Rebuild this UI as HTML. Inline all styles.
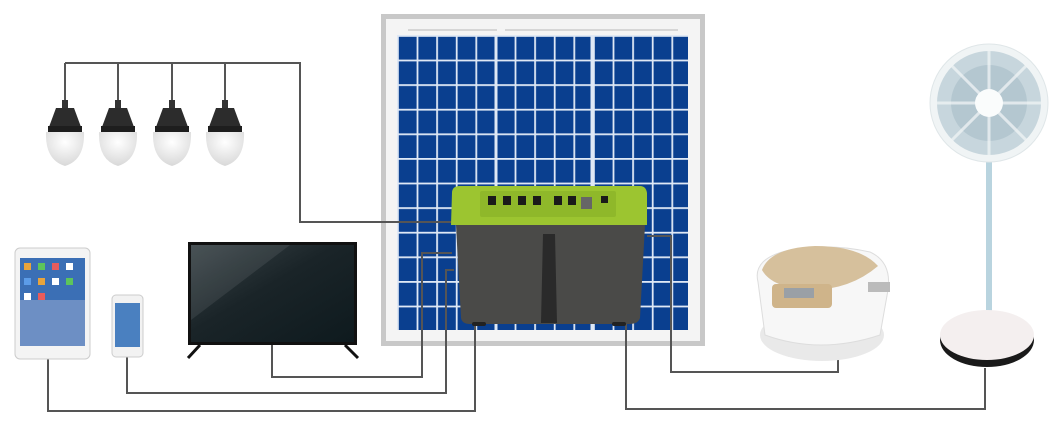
<!DOCTYPE html>
<html><head><meta charset="utf-8"><style>html,body{margin:0;padding:0;background:#fff}svg{display:block}</style></head>
<body>
<svg width="1063" height="435" viewBox="0 0 1063 435" xmlns="http://www.w3.org/2000/svg">
<defs>
<pattern id="cells" x="397" y="35" width="19.6" height="24.6" patternUnits="userSpaceOnUse">
<rect width="19.6" height="24.6" fill="#0a3f8f"/>
<rect x="0" y="0" width="19.6" height="1.8" fill="#dfe8f5"/>
<rect x="0" y="0" width="1.8" height="24.6" fill="#dfe8f5"/>
</pattern>
<linearGradient id="tvg" x1="0" y1="0" x2="1" y2="1"><stop offset="0" stop-color="#3a4448"/><stop offset="0.45" stop-color="#1a2428"/><stop offset="1" stop-color="#0e1a1e"/></linearGradient>
<radialGradient id="bulb" cx="0.5" cy="0.3" r="0.7"><stop offset="0" stop-color="#ffffff"/><stop offset="1" stop-color="#d8d8d8"/></radialGradient>
</defs>
<!-- panel -->
<rect x="381" y="14" width="324" height="332" fill="#c8c8c8"/>
<rect x="386" y="19" width="314" height="322" fill="#f4f4f4"/>
<line x1="408" y1="30" x2="497" y2="30" stroke="#ccc" stroke-width="1.5"/>
<line x1="505" y1="30" x2="678" y2="30" stroke="#ccc" stroke-width="1.5"/>
<rect x="397" y="35" width="291" height="295" fill="url(#cells)"/>
<line x1="496" y1="35" x2="496" y2="330" stroke="#dfe8f5" stroke-width="3"/>
<line x1="592" y1="35" x2="592" y2="330" stroke="#dfe8f5" stroke-width="3"/>
<!-- wires -->
<g fill="none" stroke="#555" stroke-width="2">
<polyline points="65,63 300,63 300,222 452,222"/>
<line x1="65" y1="63" x2="65" y2="100"/><line x1="118" y1="63" x2="118" y2="100"/><line x1="172" y1="63" x2="172" y2="100"/><line x1="225" y1="63" x2="225" y2="100"/>
<polyline points="272,345 272,377 422,377 422,253 452,253"/>
<polyline points="127,357 127,393 446,393 446,270 454,270"/>
<polyline points="48,358 48,411 475,411 475,325"/>
<polyline points="647,236 671,236 671,372 838,372 838,358"/>
<polyline points="626,323 626,409 985,409 985,368"/>
</g>
<!-- box -->
<path d="M456,225 L645,225 L640,318 Q638,324 630,324 L470,324 Q462,324 461,318 Z" fill="#4a4a48"/>
<path d="M543,234 L555,234 L557,323 L541,323 Z" fill="#2a2a2a"/>
<path d="M452,193 Q452,186 460,186 L640,186 Q646,186 647,193 L647,225 L451,225 Z" fill="#9cc530"/>
<rect x="480" y="191" width="136" height="26" fill="#8fb82a" rx="2"/>
<g fill="#1a1a1a"><rect x="488" y="196" width="8" height="9"/><rect x="503" y="196" width="8" height="9"/><rect x="518" y="196" width="8" height="9"/><rect x="533" y="196" width="8" height="9"/><rect x="554" y="196" width="8" height="9"/><rect x="568" y="196" width="8" height="9"/><rect x="601" y="196" width="7" height="7"/></g>
<rect x="581" y="197" width="11" height="12" fill="#666"/>
<rect x="472" y="322" width="14" height="4" fill="#222" rx="2"/><rect x="612" y="322" width="14" height="4" fill="#222" rx="2"/>
<!-- bulbs -->
<g>
<g transform="translate(65,0)"><rect x="-3" y="100" width="6" height="8" fill="#333"/><path d="M-9,108 L9,108 L16,127 L-16,127 Z" fill="#2c2c2c"/><rect x="-17" y="126" width="34" height="6" fill="#1e1e1e"/><path d="M-19,132 L19,132 Q20,160 0,166 Q-20,160 -19,132 Z" fill="url(#bulb)"/></g>
<g transform="translate(118,0)"><rect x="-3" y="100" width="6" height="8" fill="#333"/><path d="M-9,108 L9,108 L16,127 L-16,127 Z" fill="#2c2c2c"/><rect x="-17" y="126" width="34" height="6" fill="#1e1e1e"/><path d="M-19,132 L19,132 Q20,160 0,166 Q-20,160 -19,132 Z" fill="url(#bulb)"/></g>
<g transform="translate(172,0)"><rect x="-3" y="100" width="6" height="8" fill="#333"/><path d="M-9,108 L9,108 L16,127 L-16,127 Z" fill="#2c2c2c"/><rect x="-17" y="126" width="34" height="6" fill="#1e1e1e"/><path d="M-19,132 L19,132 Q20,160 0,166 Q-20,160 -19,132 Z" fill="url(#bulb)"/></g>
<g transform="translate(225,0)"><rect x="-3" y="100" width="6" height="8" fill="#333"/><path d="M-9,108 L9,108 L16,127 L-16,127 Z" fill="#2c2c2c"/><rect x="-17" y="126" width="34" height="6" fill="#1e1e1e"/><path d="M-19,132 L19,132 Q20,160 0,166 Q-20,160 -19,132 Z" fill="url(#bulb)"/></g>
</g>
<!-- tablet -->
<rect x="15" y="248" width="75" height="111" rx="5" fill="#f4f4f4" stroke="#ccc"/>
<rect x="20" y="258" width="65" height="88" fill="#3b6fb5"/>
<rect x="20" y="300" width="65" height="46" fill="#6d8fc4"/>
<g fill="#e8a43c"><rect x="24" y="263" width="7" height="7"/><rect x="38" y="263" width="7" height="7" fill="#5cc45c"/><rect x="52" y="263" width="7" height="7" fill="#e85c5c"/><rect x="66" y="263" width="7" height="7" fill="#fff"/><rect x="24" y="278" width="7" height="7" fill="#5c9ce8"/><rect x="38" y="278" width="7" height="7"/><rect x="52" y="278" width="7" height="7" fill="#fff"/><rect x="66" y="278" width="7" height="7" fill="#5cc45c"/><rect x="24" y="293" width="7" height="7" fill="#fff"/><rect x="38" y="293" width="7" height="7" fill="#e85c5c"/></g>
<!-- phone -->
<rect x="112" y="295" width="31" height="62" rx="4" fill="#f2f2f2" stroke="#ccc"/>
<rect x="115" y="303" width="25" height="44" fill="#4a80c0"/>
<!-- tv -->
<rect x="188" y="242" width="169" height="103" fill="#111"/>
<rect x="191" y="245" width="163" height="97" fill="url(#tvg)"/>
<polygon points="191,245 290,245 191,320" fill="#ffffff" opacity="0.08"/>
<line x1="200" y1="345" x2="188" y2="358" stroke="#111" stroke-width="3"/>
<line x1="345" y1="345" x2="358" y2="358" stroke="#111" stroke-width="3"/>
<!-- rice cooker -->
<ellipse cx="822" cy="335" rx="62" ry="26" fill="#e9e9e9"/>
<path d="M758,282 Q752,258 790,250 Q830,243 870,252 Q892,262 888,290 L880,335 Q820,355 765,335 Z" fill="#f7f7f7" stroke="#ddd"/>
<path d="M762,270 Q770,248 815,246 Q860,246 878,266 Q850,290 810,290 Q772,288 762,270 Z" fill="#d6c09c"/>
<rect x="772" y="284" width="60" height="24" rx="4" fill="#cfb48a"/>
<rect x="784" y="288" width="30" height="10" fill="#9aa0a6"/>
<rect x="868" y="282" width="22" height="10" fill="#bbb"/>
<!-- fan -->
<rect x="986" y="158" width="6" height="160" fill="#b9d4df"/>
<ellipse cx="987" cy="340" rx="47" ry="27" fill="#1a1a1a"/>
<ellipse cx="987" cy="335" rx="47" ry="25" fill="#f4efef"/>
<circle cx="989" cy="103" r="59" fill="#f0f4f5" stroke="#dfe6e8"/>
<circle cx="989" cy="103" r="52" fill="#c7d6dd"/>
<circle cx="989" cy="103" r="38" fill="#b4c7d0"/>
<g stroke="#f4f7f8" stroke-width="3" opacity="0.7"><line x1="989" y1="51" x2="989" y2="155"/><line x1="937" y1="103" x2="1041" y2="103"/><line x1="952" y1="66" x2="1026" y2="140"/><line x1="1026" y1="66" x2="952" y2="140"/></g>
<circle cx="989" cy="103" r="14" fill="#fafcfc"/>
</svg>
</body></html>
